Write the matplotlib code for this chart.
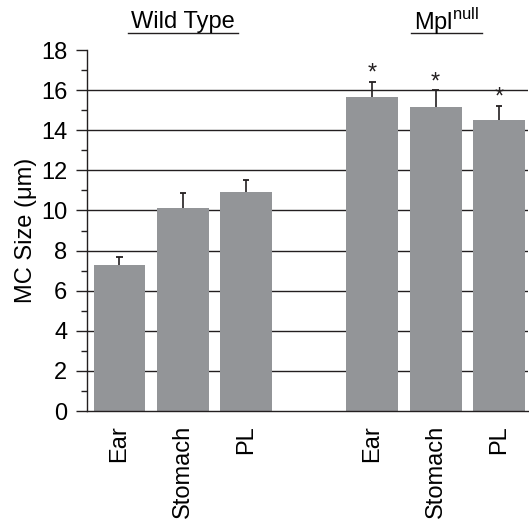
import matplotlib.pyplot as plt
import numpy as np

plt.rcParams['font.family'] = ['Liberation Sans', 'DejaVu Sans']

# data
tissues = ["Ear", "Stomach", "PL", "Ear", "Stomach", "PL"]
wt_size = [7.3, 10.1, 10.9]
wt_err = [0.37, 0.75, 0.6]
mpl_size = [15.67, 15.15, 14.5]
mpl_err = [0.75, 0.85, 0.73]
significant = [False, False, False, True, True, True]

sizes = np.array(wt_size + mpl_size)
errs = np.array(wt_err + mpl_err)
xpos = np.array([0, 1, 2, 4, 5, 6])

fig = plt.figure(figsize=(5.29, 5.2), dpi=100)
ax = fig.add_axes([0.164, 0.2096, 0.834, 0.6942])

bar_col = "#939598"
dark = "#231f20"
fs = 17

ax.bar(xpos, sizes, width=0.82, color=bar_col, edgecolor="none", zorder=2)
# upper error bars only
ax.vlines(xpos, sizes, sizes + errs, color=dark, lw=1.2, zorder=3)
ax.hlines(sizes + errs, xpos - 0.05, xpos + 0.05, color=dark, lw=1.3, zorder=3)

# stars above the significant bars
for x, s, e, sig in zip(xpos, sizes, errs, significant):
    if sig:
        ax.text(x, s + e + 0.4, "*", ha="center", va="center", fontsize=17,
                color=dark)

# horizontal lines at major ticks (not at top)
for yv in range(2, 17, 2):
    ax.axhline(yv, color=dark, lw=1.0, zorder=1)

ax.set_xlim(-0.517, 6.46)
ax.set_ylim(0, 18)
ax.set_yticks(range(0, 19, 2))
ax.set_yticks(range(1, 18, 2), minor=True)
ax.tick_params(axis="y", which="major", length=8, width=1, labelsize=fs,
               color=dark, direction="out", pad=6)
ax.tick_params(axis="y", which="minor", length=4, width=1, color=dark)
ax.set_xticks(xpos)
ax.set_xticklabels(tissues, rotation=90, fontsize=fs, va="top")
ax.tick_params(axis="x", length=0, pad=10)

for sp in ["top", "right"]:
    ax.spines[sp].set_visible(False)
for sp in ["left", "bottom"]:
    ax.spines[sp].set_color(dark)
    ax.spines[sp].set_linewidth(1.0)

ax.set_ylabel("MC Size (\u03bcm)", fontsize=fs, labelpad=3)

# group headers with underline
ax.text(1.0, 19.4, "Wild Type", ha="center", va="center", fontsize=fs,
        clip_on=False)
ax.plot([0.13, 1.88], [18.85, 18.85], color=dark, lw=1.0, clip_on=False)
ax.text(5.17, 19.4, "Mpl$^{\\mathregular{null}}$", ha="center", va="center",
        fontsize=fs, clip_on=False)
ax.plot([4.61, 5.73], [18.85, 18.85], color=dark, lw=1.0, clip_on=False)

fig.savefig("out.png", dpi=100)
